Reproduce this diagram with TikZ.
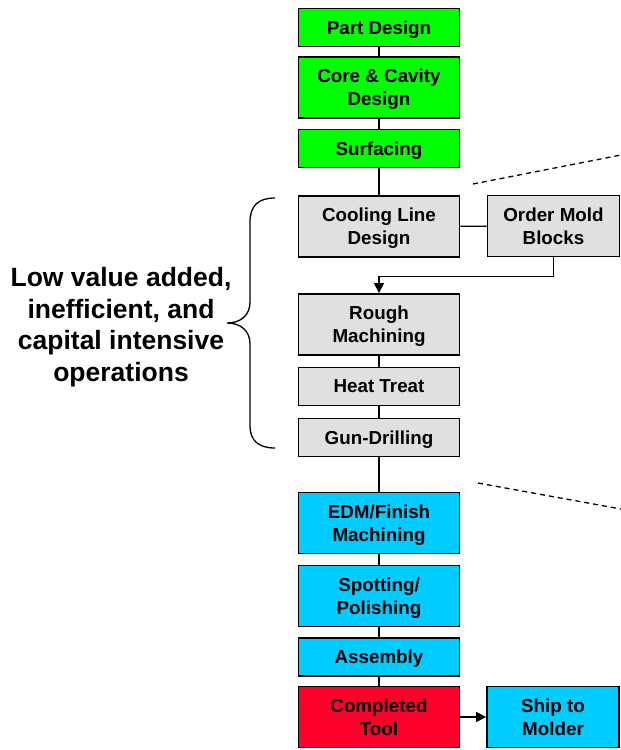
\documentclass[tikz,border=0pt]{standalone}
\usepackage{fontspec}
\setmainfont{Liberation Sans}
\usetikzlibrary{arrows.meta}
\definecolor{boxgreen}{RGB}{0,255,0}
\definecolor{boxgray}{RGB}{224,224,224}
\definecolor{boxcyan}{RGB}{0,204,255}
\definecolor{boxred}{RGB}{255,0,43}
\newcommand\boxfont{\fontsize{18.8}{23}\selectfont\bfseries}
\newcommand\sidefont{\fontsize{26.5}{31.5}\selectfont\bfseries}
\begin{document}
\begin{tikzpicture}[x=1pt,y=-1pt,
  box/.style={draw=black, line width=1.8pt, minimum width=161pt, align=center, font=\boxfont, inner sep=0pt, text depth=0pt},
  smallbox/.style={box, minimum width=132pt},
  one/.style={minimum height=38pt},
  two/.style={minimum height=61pt},
  conn/.style={draw=black, line width=1.3pt},
  arr/.style={conn, -{Triangle[length=10pt,width=10pt]}},
  dashline/.style={draw=black, line width=1.3pt, dash pattern=on 5pt off 4pt}]
\useasboundingbox (0,0) rectangle (621,750);
% green
\node[box,one,fill=boxgreen] (pd) at (379,27.5) {Part Design};
\node[box,two,fill=boxgreen] (cc) at (379,87.5) {Core \& Cavity\\Design};
\node[box,one,fill=boxgreen] (sf) at (379,148.5) {Surfacing};
% gray
\node[box,two,fill=boxgray] (cl) at (379,226.5) {Cooling Line\\Design};
\node[smallbox,two,fill=boxgray] (om) at (553.5,226) {Order Mold\\Blocks};
\node[box,two,fill=boxgray] (rm) at (379,324.5) {Rough\\Machining};
\node[box,one,fill=boxgray] (ht) at (379,386.5) {Heat Treat};
\node[box,one,fill=boxgray] (gd) at (379,437.5) {Gun-Drilling};
% cyan
\node[box,two,fill=boxcyan] (edm) at (379,523) {EDM/Finish\\Machining};
\node[box,two,fill=boxcyan] (sp) at (379,596) {Spotting/\\Polishing};
\node[box,one,fill=boxcyan] (as) at (379,657) {Assembly};
\node[box,two,fill=boxred] (ct) at (379,717) {Completed\\Tool};
\node[smallbox,two,fill=boxcyan] (sh) at (553,717) {Ship to\\Molder};
% connectors
\draw[conn] (pd) -- (cc);
\draw[conn] (cc) -- (sf);
\draw[conn] (sf) -- (cl);
\draw[conn] (cl) -- (om);
\draw[arr] (om.south) -- ++(0,19) -| (rm.north);
\draw[conn] (rm) -- (ht);
\draw[conn] (ht) -- (gd);
\draw[conn] (gd) -- (edm);
\draw[conn] (edm) -- (sp);
\draw[conn] (sp) -- (as);
\draw[conn] (as) -- (ct);
\draw[arr] (ct) -- (sh);
% dashed lines
\coordinate (d1a) at (473,184);
\coordinate (d1b) at (621,155);
\coordinate (d2a) at (478,483);
\coordinate (d2b) at (621,509);
\draw[dashline] (d1a) -- (d1b);
\draw[dashline] (d2a) -- (d2b);
% brace
\draw[line width=1.3pt] (275,198) .. controls (258,198) and (250,206) .. (250,222) -- (250,302)
  .. controls (250,315) and (241,323) .. (227,323)
  .. controls (241,323) and (250,331) .. (250,344) -- (250,426)
  .. controls (250,440) and (258,448) .. (275,448);
\node[align=center, font=\sidefont, inner sep=0pt] (lbl) at (121,327) {Low value added,\\inefficient, and\\capital intensive\\operations};
\end{tikzpicture}
\end{document}
